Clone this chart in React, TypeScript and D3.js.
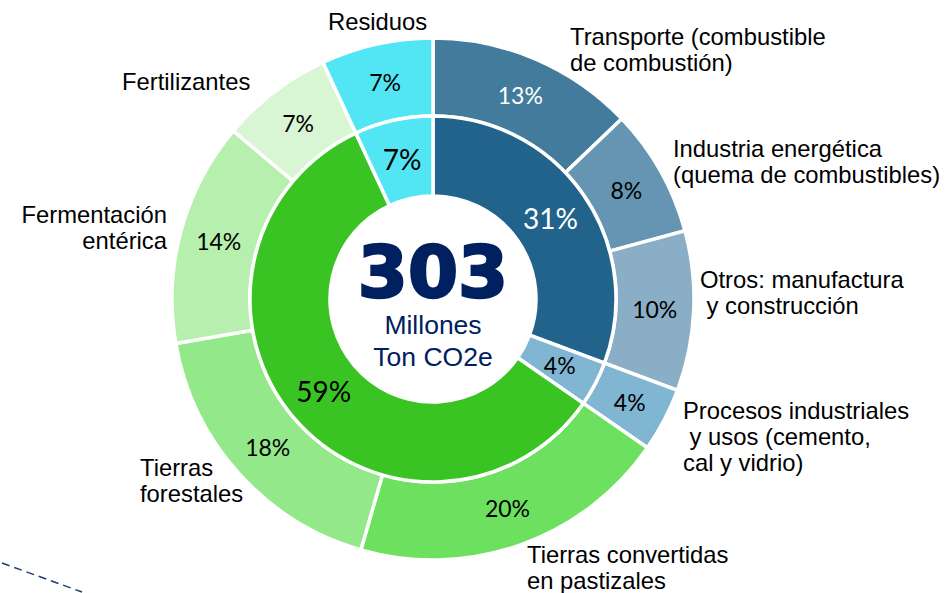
import * as d3 from 'd3';

// inner ring: sectors
const innerNames = ['Energía', 'Procesos industriales', 'AFOLU', 'Residuos'];
const innerValues = [31, 4, 59, 7];
const innerColors = ['#22638C', '#81B6D3', '#3AC423', '#52E5F3'];
const innerTextColors = ['#ffffff', '#000000', '#000000', '#000000'];

// outer ring: categories
const outerNames = [
    ['Transporte (combustible', 'de combustión)'],
    ['Industria energética', '(quema de combustibles)'],
    ['Otros: manufactura', ' y construcción'],
    ['Procesos industriales', ' y usos (cemento,', 'cal y vidrio)'],
    ['Tierras convertidas', 'en pastizales'],
    ['Tierras', 'forestales'],
    ['Fermentación', 'entérica'],
    ['Fertilizantes'],
    ['Residuos'],
];
const outerValues = [13, 8, 10, 4, 20, 18, 14, 7, 7];
const outerColors = ['#437B9C', '#6595B2', '#8AAEC5', '#81B6D3', '#6DE060', '#93E889', '#B7EFAE', '#D8F6D3', '#52E5F3'];
const outerTextColors = ['#ffffff', '#000', '#000', '#000', '#000', '#000', '#000', '#000', '#000'];

const total = 303;
const unit = ['Millones', 'Ton CO2e'];

// label anchors for the category names (x, y of first baseline, anchor)
const labelPos: [number, number, string][] = [
    [570, 45, 'start'],
    [673, 157, 'start'],
    [700, 288, 'start'],
    [683, 419, 'start'],
    [527, 563, 'start'],
    [140, 476, 'start'],
    [167, 223, 'end'],
    [122, 90, 'start'],
    [328, 30, 'start'],
];

export default function App() {
    const width = 945;
    const height = 593;
    const cx = 433;
    const cy = 299;
    const rHole = 103;
    const rMid = 183;
    const rOut = 261;

    const pie = d3.pie<number>().sort(null).value(d => d);
    const innerArcs = pie(innerValues);
    const outerArcs = pie(outerValues);

    const innerArc = d3.arc<d3.PieArcDatum<number>>().innerRadius(rHole).outerRadius(rMid);
    const outerArc = d3.arc<d3.PieArcDatum<number>>().innerRadius(rMid).outerRadius(rOut);
    const fmt = (v: number) => `${v}%`;

    return (
        <svg width={width} height={height} style={{ position: 'absolute', left: 0, top: 0, background: '#fff' }}>
            <g transform={`translate(${cx},${cy})`}>
                {outerArcs.map((a, i) => (
                    <path key={'o' + i} d={outerArc(a)!} fill={outerColors[i]} stroke="#fff" strokeWidth={3.5} />
                ))}
                {innerArcs.map((a, i) => (
                    <path key={'i' + i} d={innerArc(a)!} fill={innerColors[i]} stroke="#fff" strokeWidth={3.5} />
                ))}
                {outerArcs.map((a, i) => {
                    const [x, y] = outerArc.centroid(a);
                    return (
                        <text key={'ot' + i} x={x} y={y} textAnchor="middle" dominantBaseline="central"
                            fontFamily="Lato" fontSize={23} fill={outerTextColors[i]}>
                            {fmt(outerValues[i])}
                        </text>
                    );
                })}
                {innerArcs.map((a, i) => {
                    const [x, y] = innerArc.centroid(a);
                    return (
                        <text key={'it' + i} x={x} y={y} textAnchor="middle" dominantBaseline="central"
                            fontFamily="Lato" fontSize={i === 1 ? 23 : 28} fill={innerTextColors[i]}>
                            {fmt(innerValues[i])}
                        </text>
                    );
                })}
                <text x={0} y={-2} textAnchor="middle" fontFamily="DejaVu Sans" fontWeight="bold"
                    fontSize={72} fill="#002060" stroke="#002060" strokeWidth={2.5}>
                    {total}
                </text>
                {unit.map((u, i) => (
                    <text key={u} x={0} y={35 + i * 32} textAnchor="middle" fontFamily="Liberation Sans"
                        fontSize={26.5} fill="#002060">
                        {u}
                    </text>
                ))}
            </g>
            {outerNames.map((lines, i) => (
                <text key={'l' + i} x={labelPos[i][0]} y={labelPos[i][1]} textAnchor={labelPos[i][2]}
                    fontFamily="Liberation Sans" fontSize={23.8} fill="#000">
                    {lines.map((ln, j) => (
                        <tspan key={j} x={labelPos[i][0]} dy={j === 0 ? 0 : 26} style={{ whiteSpace: 'pre' }}>{ln}</tspan>
                    ))}
                </text>
            ))}
            <line x1={2} y1={563} x2={82} y2={592} stroke="#1F3A7A" strokeWidth={1.5} strokeDasharray="8,5" />
        </svg>
    );
}
